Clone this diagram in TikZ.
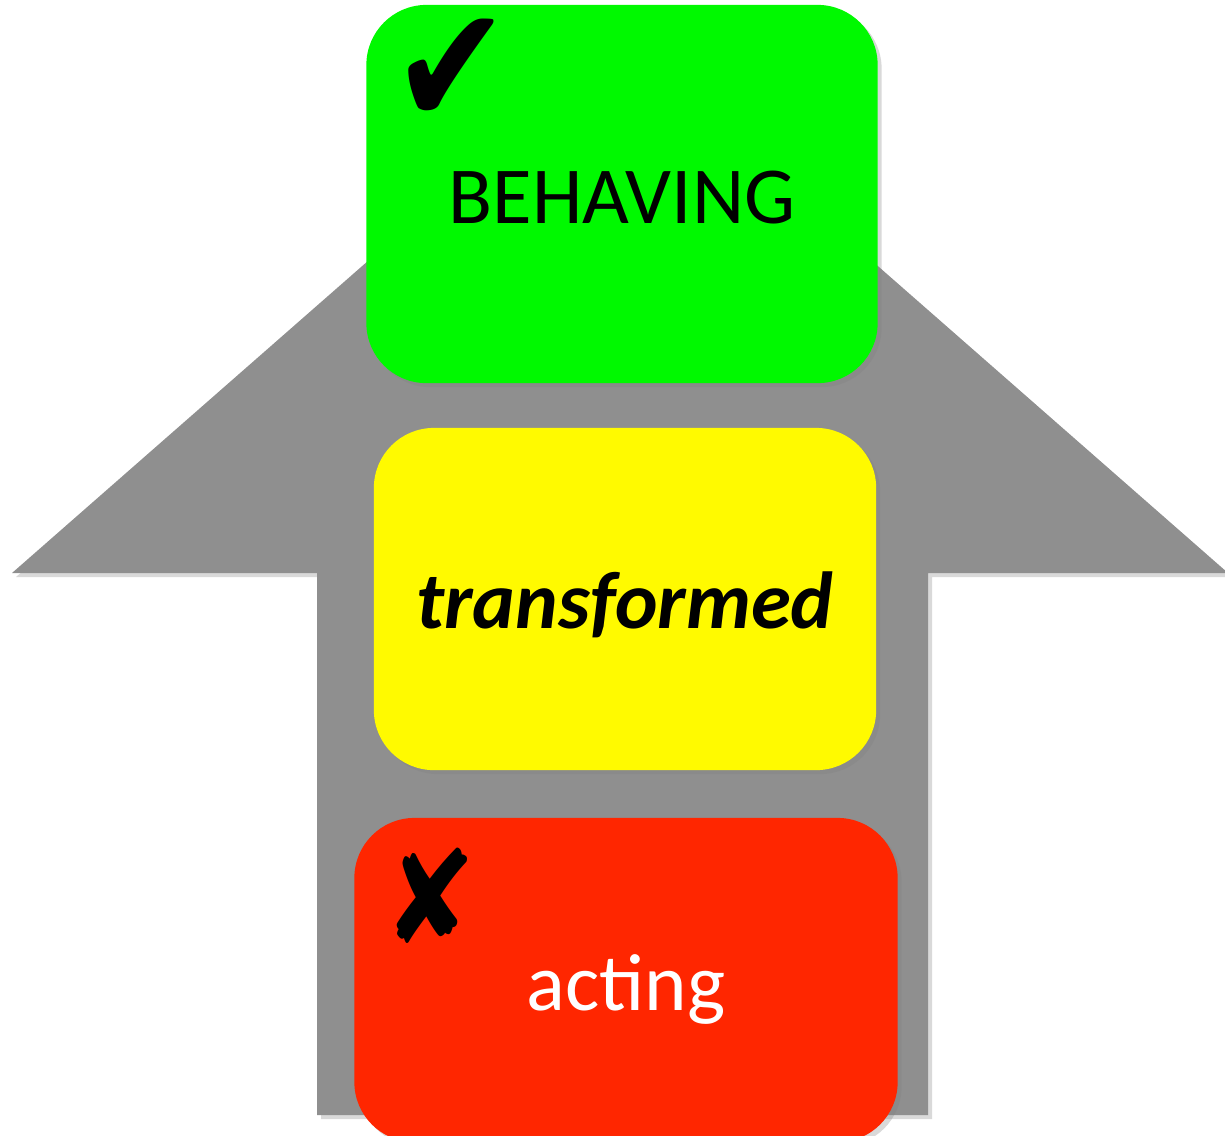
\documentclass[tikz,border=0pt]{standalone}
\usepackage{fontspec}
\setmainfont{Carlito}
\newfontfamily\dingfont{DejaVu Sans}
\usetikzlibrary{shadows}
\definecolor{arrowgrey}{RGB}{143,143,143}
\definecolor{okgreen}{RGB}{0,249,0}
\definecolor{midyellow}{RGB}{255,250,0}
\definecolor{badred}{RGB}{255,38,0}
\def\droptext(#1,#2){\raisebox{-#1}[\height][\depth]{#2}}
\tikzstyle{softshadow} = [drop shadow={shadow xshift=0.04cm, shadow yshift=-0.04cm, opacity=0.3}]
\tikzstyle{stage} = [rectangle, rounded corners=0.6cm, inner sep=0pt, text centered, font=\fontsize{23}{27}\selectfont, softshadow]
\tikzstyle{marksym} = [inner sep=0pt, font=\dingfont\fontsize{40}{44}\selectfont]

\begin{document}
\begin{tikzpicture}[x=0.01cm,y=-0.01cm]
      \clip (0,0) rectangle (1225,1135);
      \fill[arrowgrey, softshadow] (317,1115) -- (317,573) -- (12,573) -- (620,40) -- (1228,573) -- (928,573) -- (928,1115) -- cycle;
      \node[stage, fill=okgreen, minimum width=5.11cm, minimum height=3.78cm] (behave) at (622,194) {\droptext(0.04cm,BEHAVING)};
      \node[stage, fill=midyellow, minimum width=5.02cm, minimum height=3.42cm] (transf) at (625,599) {\droptext(0.06cm,\textbf{\textit{transformed}})};
      \node[stage, fill=badred, text=white, minimum width=5.43cm, minimum height=3.24cm] (act) at (626,980) {\droptext(0.09cm,acting)};
      \node[marksym] (tick) at (451,72) {\scalebox{1}[1.2]{✔}};
      \node[marksym, font=\dingfont\fontsize{36}{40}\selectfont] (cross) at (430,896) {\scalebox{0.88}[1.02]{✘}};
\end{tikzpicture}
\end{document}
